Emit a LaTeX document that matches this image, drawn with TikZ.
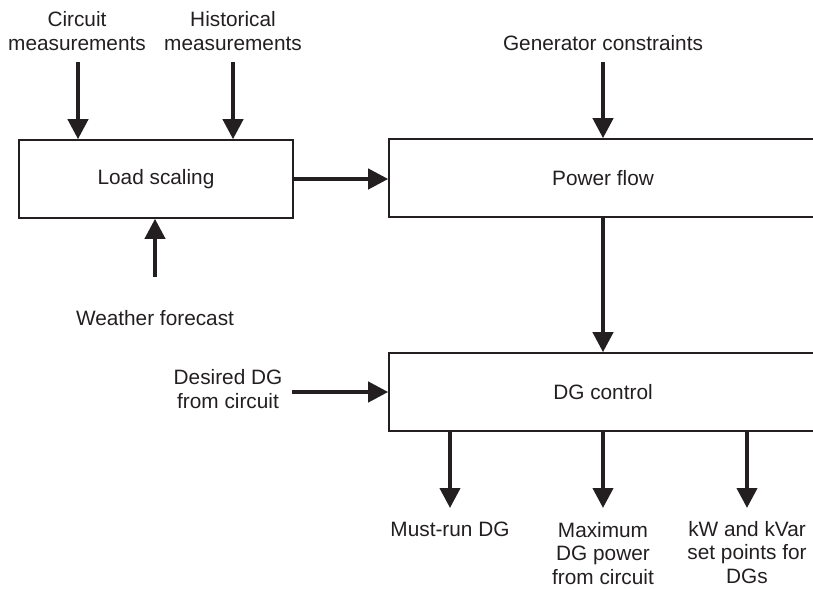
\documentclass[tikz,border=0pt]{standalone}
\usepackage{fontspec}
\setmainfont{Liberation Sans}
\usetikzlibrary{arrows.meta}
\definecolor{ink}{RGB}{35,31,32}
\tikzset{
  box/.style={draw=ink, line width=1.6pt, minimum height=78pt, inner sep=0pt, text=ink},
  lbl/.style={text=ink, align=center, inner sep=0pt},
  arr/.style={draw=ink, line width=4pt, -{Triangle[width=20pt,length=20pt]}}
}
\begin{document}
\begin{tikzpicture}[x=1pt,y=-1pt, font=\fontsize{20.8}{24}\selectfont]
\useasboundingbox (0,0) rectangle (813,589);
\clip (0,0) rectangle (813,589);
% boxes
\node[box, minimum width=274pt] (ls) at (156,179) {Load scaling};
\node[box, minimum width=428pt] (pf) at (603,178) {Power flow};
\node[box, minimum width=428pt] (dg) at (603,392) {DG control};
% input labels
\node[lbl] (cm) at (77,31) {Circuit\\measurements};
\node[lbl] (hm) at (233,31) {Historical\\measurements};
\node[lbl] (gc) at (603,43) {Generator constraints};
\node[lbl] (wf) at (155,318) {Weather forecast};
\node[lbl] (dd) at (228,389) {Desired DG\\from circuit};
% output labels
\node[lbl, anchor=north] (mr) at (450,522) {Must-run DG};
\node[lbl, anchor=north, font=\fontsize{20.8}{23.5}\selectfont] (mx) at (603,522) {Maximum\\DG power\\from circuit};
\node[lbl, anchor=north, font=\fontsize{20.8}{23.5}\selectfont] (kw) at (747,521) {kW and kVar\\set points for\\DGs};
% connector free ends
\coordinate (c1) at (78,62);
\coordinate (c2) at (233,62);
\coordinate (c3) at (603,62);
\coordinate (c4) at (155,277);
\coordinate (c5) at (292,392);
\coordinate (o1) at (450,508);
\coordinate (o2) at (603,508);
\coordinate (o3) at (747,508);
% connectors
\draw[arr] (c1) -- (c1 |- ls.north);
\draw[arr] (c2) -- (c2 |- ls.north);
\draw[arr] (c3) -- (c3 |- pf.north);
\draw[arr] (c4) -- (c4 |- ls.south);
\draw[arr] (ls.east) -- (ls.east -| pf.west);
\draw[arr] (pf.south) -- (dg.north);
\draw[arr] (c5) -- (c5 -| dg.west);
\draw[arr] (o1 |- dg.south) -- (o1);
\draw[arr] (o2 |- dg.south) -- (o2);
\draw[arr] (o3 |- dg.south) -- (o3);
\end{tikzpicture}
\end{document}
